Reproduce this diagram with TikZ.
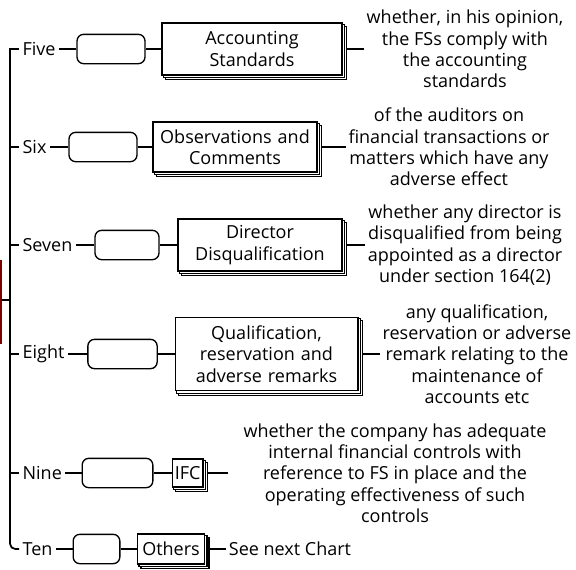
\documentclass[tikz,border=0pt]{standalone}
\usepackage{fontspec}
\setmainfont{Open Sans}
\pgfdeclarelayer{fundo}
\pgfsetlayers{fundo,main}
\tikzset{
  ramo/.style={anchor=west, inner sep=2.5pt},
  vazio/.style={draw, rounded corners=5pt, line width=1pt, minimum width=#1, minimum height=22pt},
  vazio/.default=51pt,
  pilha/.style={draw, line width=1pt, fill=white, align=center, text width=#1, inner sep=2pt},
  pilha/.default=2cm,
  sombra/.style={draw, fill=white, line width=0.8pt},
  nota/.style={align=center, inner sep=2pt},
  liga/.style={line width=1.3pt},
  raiz/.style={draw=red!50!black, line width=1.5pt, minimum width=80pt, minimum height=62pt},
}
\begin{document}
\begin{tikzpicture}[x=0.75pt, y=-0.75pt, font=\fontsize{13.5}{16}\selectfont]
  \useasboundingbox (0,0) rectangle (576,569);
  % root
  \node[raiz] (main) at (-52,302) {};
  \coordinate (root) at (10,300);
  % five
  \node[ramo] (five) at (19,49) {Five};
  \node[vazio=51pt] (blank5) at (111,49) {};
  \node[pilha=131pt, minimum height=39pt] (box5) at (252,49) {Accounting\\Standards};
  \node[nota] (note5) at (465,49) {whether, in his opinion,\\the FSs comply with\\the accounting\\standards};
  % six
  \node[ramo] (six) at (19,147) {Six};
  \node[vazio=51pt] (blank6) at (103,147) {};
  \node[pilha=119pt, minimum height=37.5pt] (box6) at (235,147) {Observations and\\Comments};
  \node[nota] (note6) at (449,147) {of the auditors on\\financial transactions or\\matters which have any\\adverse effect};
  % seven
  \node[ramo] (seven) at (19,245) {Seven};
  \node[vazio=48pt] (blank7) at (127,245) {};
  \node[pilha=119pt, minimum height=39pt] (box7) at (260,245) {Director\\Disqualification};
  \node[nota] (note7) at (465,245) {whether any director is\\disqualified from being\\appointed as a director\\under section 164(2)};
  % eight
  \node[ramo] (eight) at (19,354) {Eight};
  \node[vazio=52pt] (blank8) at (122.5,354) {};
  \node[pilha=133pt, minimum height=55pt] (box8) at (266.5,354) {Qualification,\\reservation and\\adverse remarks};
  \node[nota] (note8) at (477,354) {any qualification,\\reservation or adverse\\remark relating to the\\maintenance of\\accounts etc};
  % nine
  \node[ramo] (nine) at (19,473) {Nine};
  \node[vazio=53pt] (blank9) at (117.5,473) {};
  \node[pilha=19pt, minimum height=21pt] (box9) at (187.5,473) {IFC};
  \coordinate (end9) at (228,473);
  \node[nota] (note9) at (395,473) {whether the company has adequate\\internal financial controls with\\reference to FS in place and the\\operating effectiveness of such\\controls};
  % ten
  \node[ramo] (ten) at (19,549) {Ten};
  \node[vazio=35pt] (blank10) at (96.5,549) {};
  \node[pilha=46pt, minimum height=22.5pt] (box10) at (171,549) {Others};
  \node[nota, anchor=west] (note10) at (226,549) {See next Chart};
  % stacked copies behind the boxes
  \begin{pgfonlayer}{fundo}
    \foreach \k in {5,...,10} {
      \draw[sombra] ([shift={(3pt,-3pt)}]box\k.south west) rectangle ([shift={(3pt,-3pt)}]box\k.north east);
      \draw[sombra] ([shift={(1.5pt,-1.5pt)}]box\k.south west) rectangle ([shift={(1.5pt,-1.5pt)}]box\k.north east);
    }
  \end{pgfonlayer}
  % spine
  \draw[liga] (main.east |- root) -- (root);
  \draw[liga] (five.west) -| (root);
  \draw[liga, rounded corners=4pt] (root) |- (ten.west);
  \foreach \n in {six,seven,eight,nine} \draw[liga] (\n.west) -- (\n.west -| root);
  % links
  \foreach \n/\k in {five/5,six/6,seven/7,eight/8,nine/9,ten/10} {
    \draw[liga] (\n) -- (blank\k);
    \draw[liga] (blank\k) -- (box\k);
  }
  \foreach \k in {5,6,7,8} \draw[liga] ([xshift=3pt]box\k.east) -- (box\k -| note\k.west);
  \draw[liga] ([xshift=3pt]box9.east) -- (end9);
  \draw[liga] ([xshift=3pt]box10.east) -- (note10);
\end{tikzpicture}
\end{document}
